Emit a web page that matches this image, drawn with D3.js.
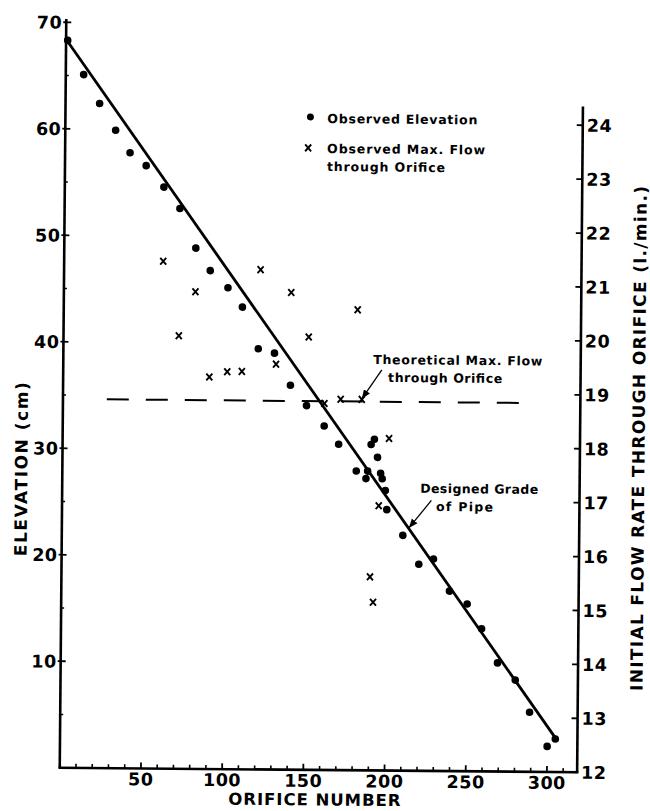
<!DOCTYPE html>
<html><head><meta charset="utf-8">
<script src="https://cdn.jsdelivr.net/npm/d3@7"></script>
<style>body{margin:0;background:#fff}</style>
</head><body>
<svg id="c" width="650" height="811"></svg>
<script>
// ---- data ----
const orificeElev = [1,11,21,31,40,50,61,71,81,90,101,110,120,130,140,150,161,170,181,187,188,190,192,194,196,197,199,200,210,220,229,239,250,259,269,280,289,300,305];
const elevation   = [68.3,65.1,62.4,59.9,57.8,56.6,54.6,52.6,48.9,46.8,45.2,43.4,39.5,39.1,36.1,34.2,32.3,30.6,28.1,27.4,28.1,30.6,31.1,29.4,27.9,27.4,26.3,24.5,22.1,19.4,19.9,16.9,15.7,13.4,10.2,8.6,5.6,2.4,3.1];
const orificeFlow = [61,81,71,90,101,110,121,131,140,151,161,171,181,184,201,195,190,192];
const maxFlow     = [21.41,20.85,20.03,19.27,19.37,19.38,21.27,19.52,20.85,20.03,18.80,18.88,20.54,18.88,18.16,16.91,15.59,15.12];
const gradeOrifice = [0, 306];
const gradeElev    = [68.4, 3.0];
const theoOrifice  = [27, 281];
const theoFlow     = [18.84, 18.84];
const elevTicks  = [10,20,30,40,50,60,70];
const elevMinor  = [5,15,25,35,45,55,65];
const flowTicks  = [12,13,14,15,16,17,18,19,20,21,22,23,24];
const orificeTicks = [50,100,150,200,250,300];
const orificeMinor = [10,20,30,40,60,70,80,90,110,120,130,140,160,170,180,190,210,220,230,240,260,270,280,290,310];
const legendLabels = ["Observed Elevation", "Observed Max. Flow", "through Orifice"];
const theoLabels = ["Theoretical Max. Flow", "through Orifice"];
const gradeLabels = ["Designed Grade", "of Pipe"];
const xTitle = "ORIFICE NUMBER";
const yTitle = "ELEVATION (cm)";
const y2Title = "INITIAL FLOW RATE THROUGH ORIFICE (l./min.)";

// ---- scales ----
const FONT = "'DejaVu Sans', sans-serif";
const x = d3.scaleLinear().domain([0, 300]).range([63, 550.2]);
const pxPerCm = 10.65;
const yL = d3.scaleLinear().domain([0, 70]).range([770, 770 - 70 * pxPerCm]);
const yR = d3.scaleLinear().domain([12, 24]).range([770, 123]);
const xMax = 318.6, elevMax = 70.3, flowMax = 24.35;

const svg = d3.select("#c");
svg.append("defs").append("marker")
  .attr("id", "ah").attr("viewBox", "0 0 10 10").attr("refX", 10).attr("refY", 5)
  .attr("markerWidth", 7).attr("markerHeight", 7).attr("orient", "auto")
  .append("path").attr("d", "M0,1 L10,5 L0,9 Z").attr("fill", "#000");

const g = svg.append("g").attr("transform", "rotate(0.5 322 395)");

// axes lines
const axW = 2.6;
g.append("line").attr("x1", x(0)).attr("x2", x(0)).attr("y1", yL(0)).attr("y2", yL(elevMax))
  .attr("stroke", "#000").attr("stroke-width", axW);
g.append("line").attr("x1", x(xMax)).attr("x2", x(xMax)).attr("y1", yR(12)).attr("y2", yR(flowMax))
  .attr("stroke", "#000").attr("stroke-width", axW);
g.append("line").attr("x1", x(0) - 1.3).attr("x2", x(xMax) + 1.3).attr("y1", yL(0)).attr("y2", yL(0))
  .attr("stroke", "#000").attr("stroke-width", axW);

// left ticks
g.selectAll(".lt").data(elevTicks).join("line")
  .attr("x1", x(0) - 3).attr("x2", x(0) + 5).attr("y1", d => yL(d)).attr("y2", d => yL(d))
  .attr("stroke", "#000").attr("stroke-width", 1.8);
g.selectAll(".lm").data(elevMinor).join("line")
  .attr("x1", x(0)).attr("x2", x(0) + 3).attr("y1", d => yL(d)).attr("y2", d => yL(d))
  .attr("stroke", "#000").attr("stroke-width", 1.6);
g.selectAll(".ll").data(elevTicks).join("text")
  .attr("x", x(0) - 4).attr("y", d => yL(d) + 6.5).attr("text-anchor", "end")
  .attr("font-family", FONT).attr("font-size", 17.5).attr("font-weight", "bold")
  .attr("letter-spacing", 0.5).text(d => d);

// right ticks
g.selectAll(".rt").data(flowTicks).join("line")
  .attr("x1", x(xMax) - 6).attr("x2", x(xMax)).attr("y1", d => yR(d)).attr("y2", d => yR(d))
  .attr("stroke", "#000").attr("stroke-width", 1.8);
g.selectAll(".rl").data(flowTicks).join("text")
  .attr("x", x(xMax) + 4).attr("y", d => yR(d) + 6.5).attr("text-anchor", "start")
  .attr("font-family", FONT).attr("font-size", 17.5).attr("font-weight", "bold")
  .attr("letter-spacing", 0.5).text(d => d);

// bottom ticks
g.selectAll(".bt").data(orificeTicks).join("line")
  .attr("x1", d => x(d)).attr("x2", d => x(d)).attr("y1", yL(0)).attr("y2", yL(0) - 6)
  .attr("stroke", "#000").attr("stroke-width", 1.8);
g.selectAll(".bm").data(orificeMinor).join("line")
  .attr("x1", d => x(d)).attr("x2", d => x(d)).attr("y1", yL(0)).attr("y2", yL(0) - 4)
  .attr("stroke", "#000").attr("stroke-width", 1.6);
g.selectAll(".bl").data(orificeTicks).join("text")
  .attr("x", d => x(d)).attr("y", 787).attr("text-anchor", "middle")
  .attr("font-family", FONT).attr("font-size", 17.5).attr("font-weight", "bold")
  .attr("letter-spacing", 0.5).text(d => d);

// titles
g.append("text").attr("x", x(157)).attr("y", 805.5).attr("text-anchor", "middle")
  .attr("font-family", FONT).attr("font-size", 16.5).attr("font-weight", "bold")
  .attr("textLength", 172).attr("lengthAdjust", "spacing").text(xTitle);
g.append("text").attr("transform", `translate(28,${yL(28)}) rotate(-90)`).attr("text-anchor", "middle")
  .attr("font-family", FONT).attr("font-size", 17).attr("font-weight", "bold")
  .attr("textLength", 174).attr("lengthAdjust", "spacing").text(yTitle);
g.append("text").attr("transform", `translate(645,${yR(18.2)}) rotate(-90)`).attr("text-anchor", "middle")
  .attr("font-family", FONT).attr("font-size", 17).attr("font-weight", "bold")
  .attr("textLength", 505).attr("lengthAdjust", "spacing").text(y2Title);

// designed grade line
g.append("path").datum(d3.zip(gradeOrifice, gradeElev))
  .attr("d", d3.line().x(d => x(d[0])).y(d => yL(d[1])))
  .attr("stroke", "#000").attr("stroke-width", 2.8).attr("fill", "none");

// theoretical max flow dashed line
g.append("path").datum(d3.zip(theoOrifice, theoFlow))
  .attr("d", d3.line().x(d => x(d[0])).y(d => yR(d[1])))
  .attr("stroke", "#000").attr("stroke-width", 2).attr("fill", "none")
  .attr("stroke-dasharray", "22,17");

// elevation dots
g.selectAll(".dot").data(d3.zip(orificeElev, elevation)).join("circle")
  .attr("cx", d => x(d[0])).attr("cy", d => yL(d[1])).attr("r", 3.8).attr("fill", "#000");

// flow crosses
const crossPath = "M-3,-3.4L3,3.4M3,-3.4L-3,3.4";
g.selectAll(".cr").data(d3.zip(orificeFlow, maxFlow)).join("path")
  .attr("transform", d => `translate(${x(d[0])},${yR(d[1])})`)
  .attr("d", crossPath).attr("stroke", "#000").attr("stroke-width", 1.9).attr("fill", "none");

// legend
const lf = 12.5;
g.append("circle").attr("cx", 308).attr("cy", 117).attr("r", 3.5).attr("fill", "#000");
g.append("path").attr("transform", "translate(306,148)").attr("d", crossPath)
  .attr("stroke", "#000").attr("stroke-width", 1.9).attr("fill", "none");
const legW = [150, 158, 118], legY = [123, 153, 171];
legendLabels.forEach((t, i) => {
  g.append("text").attr("x", 325).attr("y", legY[i]).attr("font-family", FONT)
    .attr("font-size", lf).attr("font-weight", "bold")
    .attr("textLength", legW[i]).attr("lengthAdjust", "spacing").text(t);
});

// theoretical annotation
const thX = [373, 388], thY = [363.6, 381.4], thW = [169, 114];
theoLabels.forEach((t, i) => {
  g.append("text").attr("x", thX[i]).attr("y", thY[i]).attr("font-family", FONT)
    .attr("font-size", lf).attr("font-weight", "bold")
    .attr("textLength", thW[i]).attr("lengthAdjust", "spacing").text(t);
});
g.append("line").attr("x1", x(196.2)).attr("y1", yR(19.43)).attr("x2", x(184)).attr("y2", yR(18.89))
  .attr("stroke", "#000").attr("stroke-width", 1.3).attr("marker-end", "url(#ah)");

// designed grade annotation
const dgX = [421, 437], dgY = [492, 510], dgW = [118, 57];
gradeLabels.forEach((t, i) => {
  g.append("text").attr("x", dgX[i]).attr("y", dgY[i]).attr("font-family", FONT)
    .attr("font-size", lf).attr("font-weight", "bold")
    .attr("textLength", dgW[i]).attr("lengthAdjust", "spacing").text(t);
});
g.append("line").attr("x1", x(227.4)).attr("y1", yL(25.4)).attr("x2", x(213.7)).attr("y2", yL(22.8))
  .attr("stroke", "#000").attr("stroke-width", 1.3).attr("marker-end", "url(#ah)");
</script>
</body></html>
